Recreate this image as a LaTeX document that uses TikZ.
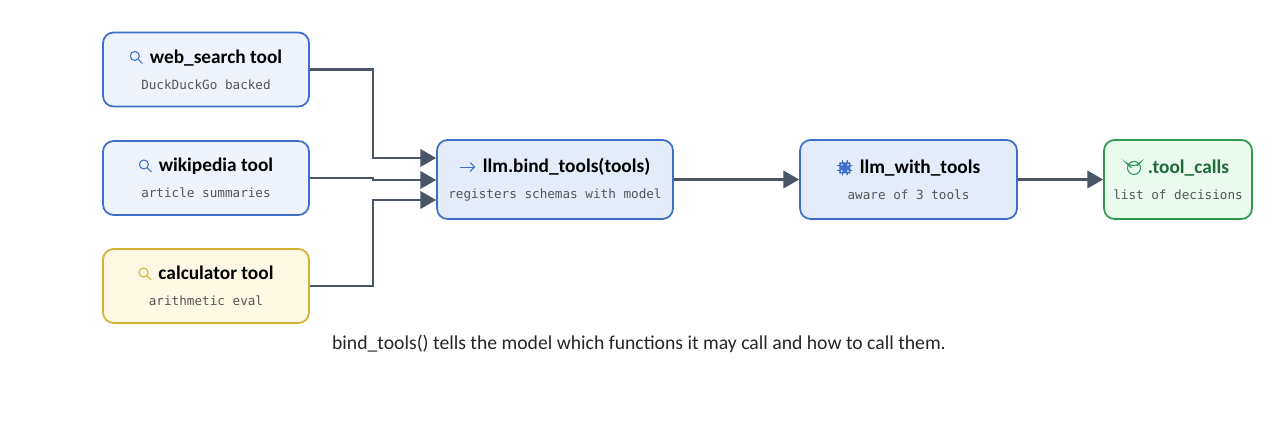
\documentclass[tikz,border=0pt]{standalone}
\usepackage{fontspec}
\setmainfont{Carlito}
\setmonofont{DejaVu Sans Mono}
\usetikzlibrary{arrows.meta}
\definecolor{bluedraw}{HTML}{3D6FC8}
\definecolor{bluefill}{HTML}{EFF4FC}
\definecolor{bindfill}{HTML}{E4ECFA}
\definecolor{golddraw}{HTML}{D6B033}
\definecolor{goldfill}{HTML}{FEF8E4}
\definecolor{greendraw}{HTML}{2F9A4E}
\definecolor{greenfill}{HTML}{EAFAEF}
\definecolor{greentext}{HTML}{1E6B37}
\definecolor{wire}{HTML}{4A5566}
\definecolor{subtext}{HTML}{555555}
% small icons
\tikzset{icon/.style = {baseline=-0.6ex, x=1cm, y=1cm, line width=0.6pt}}
\newcommand{\lensicon}[1]{\tikz[icon,#1]{\draw (0,0.04) circle (0.09); \draw (0.065,-0.025) -- (0.15,-0.11);}}
\newcommand{\chipicon}{\tikz[icon,bluedraw]{\draw (-0.1,-0.1) rectangle (0.1,0.1); \fill (-0.045,-0.045) rectangle (0.045,0.045); \foreach \t in {-0.05,0.05}{\draw (\t,0.1) -- (\t,0.15) (\t,-0.1) -- (\t,-0.15) (0.1,\t) -- (0.15,\t) (-0.1,\t) -- (-0.15,\t);}}}
\newcommand{\checkicon}{\tikz[icon,greendraw]{\draw (0,0) circle (0.13); \draw (-0.055,0) -- (-0.015,-0.04) -- (0.06,0.04);}}
\newcommand{\pointicon}{\tikz[icon,bluedraw]{\draw[-{Straight Barb[length=2.5pt]}] (-0.15,0) -- (0.15,0);}}
\newcommand{\sub}[1]{{\ttfamily\fontsize{7.2}{12}\selectfont\color{subtext}#1}}
\newcommand{\ttl}[1]{{\fontsize{11}{13}\selectfont\bfseries #1}}
\begin{document}
\begin{tikzpicture}[x=0.02cm,y=-0.02cm]
\tikzset{box/.style = {draw=bluedraw, fill=bluefill, rounded corners=6pt, line width=1pt, align=center, inner sep=0pt}}
\tikzset{tool/.style = {box, minimum width=4.12cm, minimum height=1.48cm}}
\tikzset{stage/.style = {box, minimum height=1.58cm}}
\tikzset{edge/.style = {-{Triangle[length=9pt,width=10pt]}, wire, line width=1.2pt}}
\useasboundingbox (0,0) rectangle (1280,421);
%tools
\node[tool] (web) at (206,69.5) {\lensicon{bluedraw}\,\ \ttl{web\_search tool}\\[3pt] \sub{DuckDuckGo backed}};
\node[tool] (wiki) at (206,178) {\lensicon{bluedraw}\,\ \ttl{wikipedia tool}\\[3pt] \sub{article summaries}};
\node[tool, draw=golddraw, fill=goldfill] (calc) at (206,286) {\lensicon{golddraw}\,\ \ttl{calculator tool}\\[3pt] \sub{arithmetic eval}};
%pipeline
\node[stage, fill=bindfill, minimum width=4.72cm] (bind) at (555,179.5) {\pointicon\,\ \ttl{llm.bind\_tools(tools)}\\[3pt] \sub{registers schemas with model}};
\node[stage, fill=bindfill, minimum width=4.34cm] (llm) at (908.5,179.5) {\chipicon\,\ \ttl{llm\_with\_tools}\\[3pt] \sub{aware of 3 tools}};
\node[stage, draw=greendraw, fill=greenfill, minimum width=2.96cm] (calls) at (1178,179.5) {\checkicon\,\ \ttl{\color{greentext}.tool\_calls}\\[3pt] \sub{list of decisions}};
%edges
\draw[edge] (web.east) -| (373,158) -- (bind.west |- 0,158);
\draw[edge] (wiki.east) -- (373,178) -- (373,180) -- (bind.west |- 0,180);
\draw[edge] (calc.east) -| (373,200) -- (bind.west |- 0,200);
\draw[edge] (bind) -- (llm);
\draw[edge] (llm) -- (calls);
%caption
\node[font=\fontsize{11.2}{14}\selectfont, text=black!85] (note) at (639,344) {bind\_tools() tells the model which functions it may call and how to call them.};
\end{tikzpicture}
\end{document}
